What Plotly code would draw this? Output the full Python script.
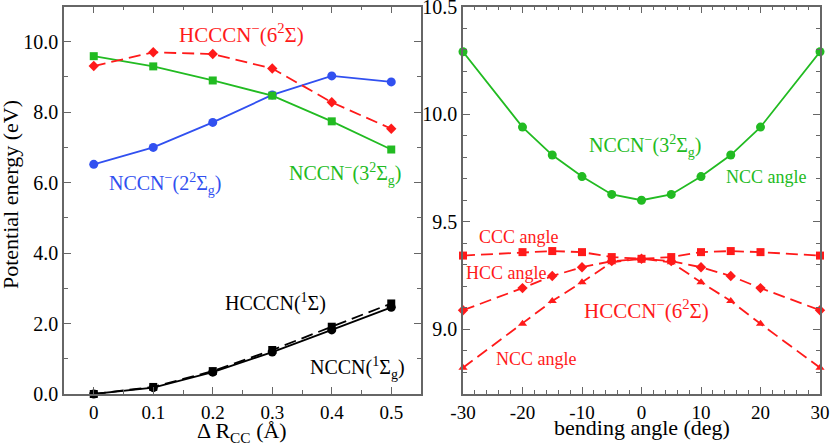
import plotly.graph_objects as go

# ---- Left panel data: stretching of the C-C bond ----
dr = [0, 0.1, 0.2, 0.3, 0.4, 0.5]
nccn_2sg = [6.52, 7.00, 7.71, 8.49, 9.03, 8.86]      # blue circles
nccn_3sg = [9.59, 9.30, 8.90, 8.47, 7.74, 6.94]      # green squares
hcccn_6s = [9.31, 9.70, 9.65, 9.24, 8.28, 7.53]      # red diamonds, dashed
hcccn_1s = [0.0, 0.20, 0.65, 1.25, 1.91, 2.57]       # black squares, dashed
nccn_1sg = [0.0, 0.18, 0.62, 1.19, 1.82, 2.46]       # black circles, solid

# ---- Right panel data: bending ----
angle = [-30, -20, -15, -10, -5, 0, 5, 10, 15, 20, 30]
nccn_3sg_ncc = [10.29, 9.94, 9.81, 9.71, 9.627, 9.60, 9.627, 9.71, 9.81, 9.94, 10.29]
hcccn_ccc = [9.343, 9.359, 9.364, 9.359, 9.336, 9.328, 9.336, 9.359, 9.364, 9.359, 9.343]
hcccn_hcc = [9.089, 9.192, 9.248, 9.289, 9.317, 9.328, 9.317, 9.289, 9.248, 9.192, 9.089]
hcccn_ncc = [8.822, 9.026, 9.132, 9.219, 9.312, 9.328, 9.312, 9.219, 9.132, 9.026, 8.822]

left_xticks = [0, 0.1, 0.2, 0.3, 0.4, 0.5]
left_xticktext = ["0", "0.1", "0.2", "0.3", "0.4", "0.5"]
left_yticks = [0, 2, 4, 6, 8, 10]
left_yticktext = ["0.0", "2.0", "4.0", "6.0", "8.0", "10.0"]
right_xticks = [-30, -20, -10, 0, 10, 20, 30]
right_xticktext = ["-30", "-20", "-10", "0", "10", "20", "30"]
right_yticks = [9.0, 9.5, 10.0, 10.5]
right_yticktext = ["9.0", "9.5", "10.0", "10.5"]

BLUE = "#3150f0"
GREEN = "#22bb22"
RED = "#ff1a1a"
BLACK = "#000000"
FONT = "Liberation Serif"

fig = go.Figure()

def add(x, y, color, symbol, size, dash, xa, ya):
    fig.add_trace(go.Scatter(
        x=x, y=y, mode="lines+markers", xaxis=xa, yaxis=ya,
        line=dict(color=color, width=1.8, dash=dash),
        marker=dict(color=color, symbol=symbol, size=size),
        showlegend=False, hoverinfo="skip", cliponaxis=False))

DASH = "12px,6px"
# left
add(dr, nccn_2sg, BLUE, "circle", 9, "solid", "x", "y")
add(dr, nccn_3sg, GREEN, "square", 8, "solid", "x", "y")
add(dr, hcccn_6s, RED, "diamond", 8, DASH, "x", "y")
add(dr, hcccn_1s, BLACK, "square", 8, DASH, "x", "y")
add(dr, nccn_1sg, BLACK, "circle", 9, "solid", "x", "y")
# right
add(angle, nccn_3sg_ncc, GREEN, "circle", 9, "solid", "x2", "y2")
add(angle, hcccn_ccc, RED, "square", 8, DASH, "x2", "y2")
add(angle, hcccn_hcc, RED, "diamond", 8, DASH, "x2", "y2")
add(angle, hcccn_ncc, RED, "triangle-up", 8, DASH, "x2", "y2")

FRAME = "#666666"
common = dict(showline=True, linecolor=FRAME, linewidth=1.5, mirror="allticks",
              ticks="inside", ticklen=7, tickcolor=FRAME, tickwidth=1.2,
              showgrid=False, zeroline=False, ticklabeloverflow="allow",
              automargin=False,
              tickfont=dict(family=FONT, size=20, color="black"))
xcommon = dict(common, tickfont=dict(family=FONT, size=19, color="black"))

W, H = 830, 448
def px(xp): return xp / W
def py(yp): return 1 - yp / H

fig.update_layout(
    width=W, height=H, margin=dict(l=0, r=0, t=0, b=0, autoexpand=False),
    paper_bgcolor="white", plot_bgcolor="white",
    font=dict(family=FONT, size=20, color="black"),
    xaxis=dict(domain=[px(64), px(421)], range=[-0.05, 0.55],
               tickvals=left_xticks, ticktext=left_xticktext,
               minor=dict(dtick=0.05, tick0=0, ticks="inside", ticklen=4, tickcolor=FRAME),
               anchor="y", **xcommon),
    yaxis=dict(domain=[py(394), py(6.5)], range=[0, 11],
               tickvals=left_yticks, ticktext=left_yticktext,
               minor=dict(dtick=1, tick0=0, ticks="inside", ticklen=4, tickcolor=FRAME),
               anchor="x", **common),
    xaxis2=dict(domain=[px(463), px(820)], range=[-30, 30],
                tickvals=right_xticks, ticktext=right_xticktext,
                minor=dict(dtick=2, tick0=0, ticks="inside", ticklen=4, tickcolor=FRAME),
                anchor="y2", **xcommon),
    yaxis2=dict(domain=[py(394), py(6.5)], range=[8.7, 10.5],
                tickvals=right_yticks, ticktext=right_yticktext,
                minor=dict(dtick=0.1, tick0=8.7, ticks="inside", ticklen=4, tickcolor=FRAME),
                anchor="x2", **common),
)

def ann(text, x, y, color, size, xref="x", yref="y", angle=0):
    fig.add_annotation(text=text, x=x, y=y, xref=xref, yref=yref, showarrow=False,
                       font=dict(family=FONT, size=size, color=color),
                       xanchor="center", yanchor="middle", textangle=angle)

# left panel labels
ann("HCCCN<sup>−</sup>(6<sup>2</sup>Σ)", 0.249, 10.24, RED, 21)
ann("NCCN<sup>−</sup>(2<sup>2</sup>Σ<sub>g</sub>)", 0.12, 5.95, BLUE, 20)
ann("NCCN<sup>−</sup>(3<sup>2</sup>Σ<sub>g</sub>)", 0.423, 6.25, GREEN, 20)
ann("HCCCN(<sup>1</sup>Σ)", 0.306, 2.6, BLACK, 20)
ann("NCCN(<sup>1</sup>Σ<sub>g</sub>)", 0.443, 0.75, BLACK, 20)
# right panel labels
ann("NCCN<sup>−</sup>(3<sup>2</sup>Σ<sub>g</sub>)", 0.67, 9.85, GREEN, 20, "x2", "y2")
ann("NCC angle", 21.07, 9.709, GREEN, 18, "x2", "y2")
ann("CCC angle", -20.56, 9.431, RED, 18, "x2", "y2")
ann("HCC angle", -22.75, 9.26, RED, 18, "x2", "y2")
ann("HCCCN<sup>−</sup>(6<sup>2</sup>Σ)", 0.84, 9.093, RED, 21, "x2", "y2")
ann("NCC angle", -17.7, 8.862, RED, 18, "x2", "y2")

# axis titles
ann("Potential energy (eV)", px(10), py(195), BLACK, 22, "paper", "paper", -90)
ann("Δ R<sub>CC</sub> (Å)", px(242), py(432), BLACK, 22, "paper", "paper")
ann("bending angle (deg)", px(642), py(427), BLACK, 22, "paper", "paper")

fig.write_html("out.html", config={"displayModeBar": False},
               post_script="document.body.style.margin='0';document.body.style.overflow='hidden';")
